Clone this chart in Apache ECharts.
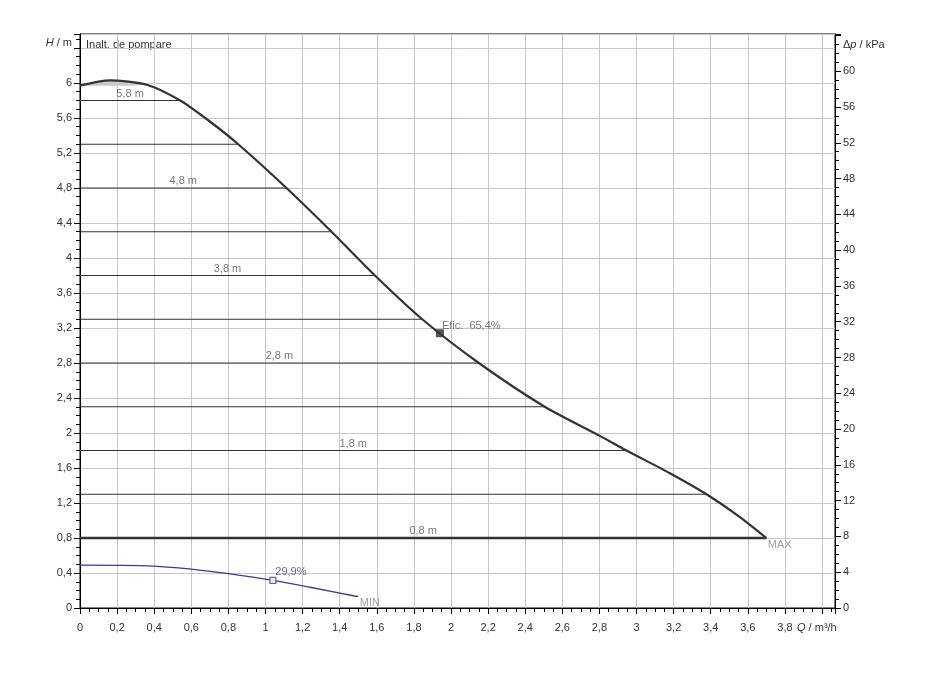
<!DOCTYPE html>
<html lang="en">
<head>
    <meta charset="UTF-8">
    <title>Curba pompa</title>
    <script src="https://cdn.jsdelivr.net/npm/echarts@6/dist/echarts.min.js"></script>
</head>
<body style="margin:0; background:#fff">
<div id="main" style="width:929px;height:675px;"></div>
<script>
    // curba MAX (Q in m3/h, H in m)
    const qMax = [0, 0.16, 0.36, 0.54, 0.7, 0.853, 1.113, 1.356, 1.59, 1.845, 2.15, 2.505, 2.8, 2.946, 3.18, 3.377, 3.55, 3.70];
    const hMax = [5.97, 6.03, 5.98, 5.8, 5.56, 5.3, 4.8, 4.3, 3.8, 3.3, 2.8, 2.3, 1.97, 1.8, 1.54, 1.3, 1.05, 0.8];
    // curba MIN
    const qMin = [0, 0.32, 0.53, 0.8, 1.04, 1.24, 1.48, 1.5];
    const hMin = [0.489, 0.485, 0.458, 0.392, 0.315, 0.237, 0.137, 0.133];
    // zona gri de sus
    const qBump = [0, 0.08, 0.16, 0.26, 0.36];
    const hBump = [5.97, 6.01, 6.03, 6.01, 5.98];
    // linii de inaltime constanta
    const isoH = [5.8, 5.3, 4.8, 4.3, 3.8, 3.3, 2.8, 2.3, 1.8, 1.3, 0.8];
    const isoQ = [0.54, 0.853, 1.113, 1.356, 1.59, 1.845, 2.15, 2.505, 2.946, 3.377, 3.70];
    const isoLabel = ['5,8 m', '', '4,8 m', '', '3,8 m', '', '2,8 m', '', '1,8 m', '', '0,8 m'];
    // puncte de randament
    const effMax = [1.94, 3.14, 'Efic.  65,4%'];
    const effMin = [1.04, 0.315, '29,9%'];

    const xMax = 4.07;
    const yMax = 6.56;
    const kPaPerM = 9.78;

    const fmt = v => String(+v.toFixed(2)).replace('.', ',');
    const font = '"Liberation Sans", Arial, sans-serif';

    let chart = echarts.init(document.getElementById('main'));

    let series = [];

    series.push({
        type: 'line',
        data: qBump.map((q, i) => [q, hBump[i]]),
        smooth: 0.4,
        symbol: 'none',
        lineStyle: {width: 0},
        areaStyle: {color: '#c9c9c9', opacity: 1, origin: 5.97},
        silent: true,
        z: 2
    });

    isoH.forEach((h, i) => {
        series.push({
            type: 'line',
            data: [[0, h], [isoQ[i], h]],
            symbol: 'none',
            lineStyle: {color: '#333', width: h === 0.8 ? 2.5 : 1},
            silent: true,
            z: 3
        });
    });

    // etichete linii
    series.push({
        type: 'scatter',
        data: isoH.map((h, i) => ({value: [isoQ[i] / 2, h], name: isoLabel[i]})),
        symbolSize: 1,
        itemStyle: {color: 'rgba(0,0,0,0)'},
        label: {
            show: true,
            position: 'top',
            distance: 1,
            formatter: p => p.name,
            color: '#555',
            fontSize: 11,
            fontFamily: font
        },
        silent: true,
        z: 4
    });

    series.push({
        type: 'line',
        data: qMax.map((q, i) => [q, hMax[i]]),
        smooth: 0.25,
        symbol: 'none',
        lineStyle: {color: '#333', width: 2.2},
        silent: true,
        z: 5
    });

    series.push({
        type: 'line',
        data: qMin.map((q, i) => [q, hMin[i]]),
        smooth: 0.3,
        symbol: 'none',
        lineStyle: {color: '#3d3a8e', width: 1.3},
        silent: true,
        z: 5
    });

    // MAX / MIN
    series.push({
        type: 'scatter',
        data: [
            {value: [qMax[qMax.length - 1], hMax[hMax.length - 1]], name: 'MAX'},
            {value: [qMin[qMin.length - 1], hMin[hMin.length - 1]], name: 'MIN'}
        ],
        symbolSize: 1,
        itemStyle: {color: 'rgba(0,0,0,0)'},
        label: {
            show: true,
            position: [2, 2],
            formatter: p => p.name,
            color: '#888',
            fontSize: 11,
            fontFamily: font
        },
        silent: true,
        z: 6
    });

    series.push({
        type: 'scatter',
        data: [{value: [effMax[0], effMax[1]], name: effMax[2]}],
        symbol: 'rect',
        symbolSize: 7,
        itemStyle: {color: '#333', borderColor: '#333', borderWidth: 1},
        label: {
            show: true,
            position: [6, -9],
            formatter: p => p.name,
            color: '#555',
            fontSize: 11,
            fontFamily: font
        },
        silent: true,
        z: 7
    });

    series.push({
        type: 'scatter',
        data: [{value: [effMin[0], effMin[1]], name: effMin[2]}],
        symbol: 'rect',
        symbolSize: 6,
        itemStyle: {color: '#fff', borderColor: '#3d3a8e', borderWidth: 1.2},
        label: {
            show: true,
            position: [6, -10],
            formatter: p => p.name,
            color: '#3d3a8e',
            fontSize: 11,
            fontFamily: font
        },
        silent: true,
        z: 7
    });

    option = {
        backgroundColor: '#fff',
        animation: false,
        textStyle: {fontFamily: font},
        grid: {
            left: 80,
            right: 94,
            top: 34,
            bottom: 67,
            show: true,
            borderColor: '#000',
            borderWidth: 1,
            backgroundColor: '#fff'
        },
        xAxis: {
            type: 'value',
            min: 0,
            max: xMax,
            interval: 0.2,
            axisLine: {lineStyle: {color: '#000', width: 1}},
            axisTick: {length: 6, lineStyle: {color: '#000'}},
            minorTick: {show: true, splitNumber: 4, length: 4, lineStyle: {color: '#000'}},
            axisLabel: {
                color: '#333',
                fontSize: 11,
                margin: 14,
                showMaxLabel: false,
                formatter: v => (v > 3.9 ? '' : fmt(v))
            },
            splitLine: {lineStyle: {color: '#c8c8c8', width: 1}}
        },
        yAxis: [{
            type: 'value',
            min: 0,
            max: yMax,
            interval: 0.4,
            axisLine: {show: true, lineStyle: {color: '#000', width: 1}},
            axisTick: {show: true, length: 6, lineStyle: {color: '#000'}},
            minorTick: {show: true, splitNumber: 4, length: 4, lineStyle: {color: '#000'}},
            axisLabel: {
                color: '#333',
                fontSize: 11,
                margin: 8,
                showMaxLabel: false,
                formatter: v => (v > 6.2 ? '' : fmt(v))
            },
            splitLine: {lineStyle: {color: '#c8c8c8', width: 1}}
        }, {
            type: 'value',
            position: 'right',
            min: 0,
            max: yMax * kPaPerM,
            interval: 4,
            axisLine: {show: true, lineStyle: {color: '#000', width: 1}},
            axisTick: {show: true, length: 6, lineStyle: {color: '#000'}},
            minorTick: {show: true, splitNumber: 4, length: 4, lineStyle: {color: '#000'}},
            axisLabel: {
                color: '#333',
                fontSize: 11,
                margin: 8,
                showMaxLabel: false,
                formatter: v => (v > 62 ? '' : fmt(v))
            },
            splitLine: {show: false}
        }],
        graphic: [{
            type: 'text',
            left: 86,
            top: 39,
            style: {text: 'Inalt. de pompare', fill: '#333', font: '11px ' + font}
        }, {
            type: 'text',
            right: 857,
            top: 37,
            style: {
                text: '{i|H} / m',
                fill: '#333',
                font: '11px ' + font,
                rich: {i: {fontStyle: 'italic', fontSize: 11, fontFamily: font, fill: '#333'}}
            }
        }, {
            type: 'text',
            left: 843,
            top: 39,
            style: {
                text: 'Δ{i|p} / kPa',
                fill: '#333',
                font: '11px ' + font,
                rich: {i: {fontStyle: 'italic', fontSize: 11, fontFamily: font, fill: '#333'}}
            }
        }, {
            type: 'text',
            left: 797,
            top: 622,
            style: {
                text: '{i|Q} / m³/h',
                fill: '#333',
                font: '11px ' + font,
                rich: {i: {fontStyle: 'italic', fontSize: 11, fontFamily: font, fill: '#333'}}
            }
        }],
        series: series
    };

    chart.setOption(option);
</script>
</body>
</html>
